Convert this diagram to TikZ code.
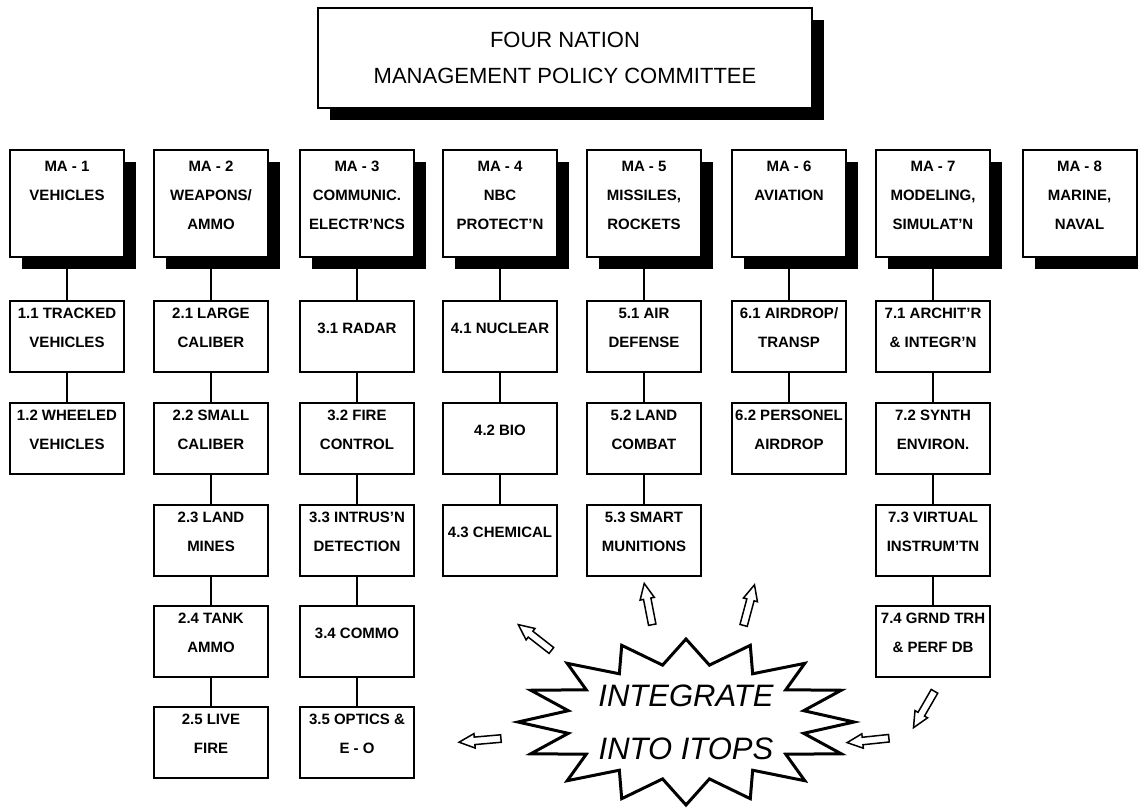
\documentclass[tikz,border=0pt]{standalone}
\usepackage{fontspec}
\setmainfont{Liberation Sans}
\usetikzlibrary{shapes.arrows,shadows,positioning}

% extra room under the last line, so the text sits a bit high in its box
\newcommand{\padline}{\\[-13pt]\mbox{}}

\begin{document}
\begin{tikzpicture}[x=1pt, y=-1pt,
    boxshadow/.style={drop shadow={shadow xshift=12pt, shadow yshift=-12pt, fill=black, opacity=1}},
    topbox/.style={draw, line width=2pt, fill=white, boxshadow, minimum width=494pt, minimum height=100pt, align=center, font=\fontsize{22}{36}\selectfont},
    mabox/.style={draw, line width=2pt, fill=white, boxshadow, minimum width=114pt, minimum height=107pt, inner sep=0pt, align=center, font=\bfseries\fontsize{15}{29}\selectfont},
    subbox/.style={draw, line width=2pt, fill=white, minimum width=114pt, minimum height=71pt, inner sep=0pt, align=center, font=\bfseries\fontsize{15}{29}\selectfont},
    link/.style={line width=2pt},
    burst/.style={line width=3pt, line join=miter},
    burstlabel/.style={align=center, inner sep=0pt, font=\itshape\fontsize{31}{53}\selectfont},
    hollow/.style={single arrow, draw, line width=1.5pt, fill=white, inner sep=3pt, single arrow head extend=3.5pt, single arrow tip angle=50, minimum height=42pt}]

    % Page
    \fill[white] (0,0) rectangle (1138,807);
    \path[use as bounding box, clip] (0,0) rectangle (1138,807);

    % Committee
    \node[topbox] (fnmpc) at (565,58) {FOUR NATION\\MANAGEMENT POLICY COMMITTEE};

    % Management areas
    \node[mabox] (ma1) at (67,203.5) {MA - 1\\VEHICLES\\\mbox{}\padline};
    \node[mabox] (ma2) at (211,203.5) {MA - 2\\WEAPONS/\\AMMO\padline};
    \node[mabox] (ma3) at (357,203.5) {MA - 3\\COMMUNIC.\\ELECTR'NCS\padline};
    \node[mabox] (ma4) at (500,203.5) {MA - 4\\NBC\\PROTECT'N\padline};
    \node[mabox] (ma5) at (644,203.5) {MA - 5\\MISSILES,\\ROCKETS\padline};
    \node[mabox] (ma6) at (789,203.5) {MA - 6\\AVIATION\\\mbox{}\padline};
    \node[mabox] (ma7) at (933,203.5) {MA - 7\\MODELING,\\SIMULAT'N\padline};
    \node[mabox] (ma8) at (1079.5,203.5) {MA - 8\\MARINE,\\NAVAL\padline};

    % Vehicles
    \node[subbox] (s11) at (67,336) {1.1 TRACKED\\VEHICLES\padline};
    \node[subbox] (s12) at (67,438) {1.2 WHEELED\\VEHICLES\padline};

    % Weapons
    \node[subbox] (s21) at (211,336) {2.1 LARGE\\CALIBER\padline};
    \node[subbox] (s22) at (211,438) {2.2 SMALL\\CALIBER\padline};
    \node[subbox] (s23) at (211,540) {2.3 LAND\\MINES\padline};
    \node[subbox] (s24) at (211,641) {2.4 TANK\\AMMO\padline};
    \node[subbox] (s25) at (211,742) {2.5 LIVE\\FIRE\padline};

    % Communication
    \node[subbox] (s31) at (357,336) {3.1 RADAR\padline};
    \node[subbox] (s32) at (357,438) {3.2 FIRE\\CONTROL\padline};
    \node[subbox] (s33) at (357,540) {3.3 INTRUS'N\\DETECTION\padline};
    \node[subbox] (s34) at (357,641) {3.4 COMMO\padline};
    \node[subbox] (s35) at (357,742) {3.5 OPTICS \&\\E - O\padline};

    % NBC
    \node[subbox] (s41) at (500,336) {4.1 NUCLEAR\padline};
    \node[subbox] (s42) at (500,438) {4.2 BIO\padline};
    \node[subbox] (s43) at (500,540) {4.3 CHEMICAL\padline};

    % Missiles
    \node[subbox] (s51) at (644,336) {5.1 AIR\\DEFENSE\padline};
    \node[subbox] (s52) at (644,438) {5.2 LAND\\COMBAT\padline};
    \node[subbox] (s53) at (644,540) {5.3 SMART\\MUNITIONS\padline};

    % Aviation
    \node[subbox] (s61) at (789,336) {6.1 AIRDROP/\\TRANSP\padline};
    \node[subbox] (s62) at (789,438) {6.2 PERSONEL\\AIRDROP\padline};

    % Modeling
    \node[subbox] (s71) at (933,336) {7.1 ARCHIT'R\\\& INTEGR'N\padline};
    \node[subbox] (s72) at (933,438) {7.2 SYNTH\\ENVIRON.\padline};
    \node[subbox] (s73) at (933,540) {7.3 VIRTUAL\\INSTRUM'TN\padline};
    \node[subbox] (s74) at (933,641) {7.4 GRND TRH\\\& PERF DB\padline};

    % Links
    \draw[link] (ma1) -- (s11) -- (s12);
    \draw[link] (ma2) -- (s21) -- (s22) -- (s23) -- (s24) -- (s25);
    \draw[link] (ma3) -- (s31) -- (s32) -- (s33) -- (s34) -- (s35);
    \draw[link] (ma4) -- (s41) -- (s42) -- (s43);
    \draw[link] (ma5) -- (s51) -- (s52) -- (s53);
    \draw[link] (ma6) -- (s61) -- (s62);
    \draw[link] (ma7) -- (s71) -- (s72) -- (s73) -- (s74);

    % Starburst
    \node[burstlabel] (itops) at (686,722) {INTEGRATE\\INTO ITOPS};
    \draw[burst] ([shift={(168,0)}]itops.center)
        \foreach \a in {0,22.5,...,337.5} {
            -- ([shift={({120*cos(\a+11.25)},{58*sin(\a+11.25)})}]itops.center)
            -- ([shift={({168*cos(\a+22.5)},{83*sin(\a+22.5)})}]itops.center)
        } -- cycle;

    % Hollow arrows
    \node[hollow, rotate=142] (a1) at (538,640) {};
    \node[hollow, rotate=101] (a2) at (649,608) {};
    \node[hollow, rotate=75] (a3) at (748,609) {};
    \node[hollow, rotate=185] (a4) at (484,740) {};
    \node[hollow, rotate=186] (a5) at (872,740) {};
    \node[hollow, rotate=240] (a6) at (926,706) {};

\end{tikzpicture}
\end{document}
